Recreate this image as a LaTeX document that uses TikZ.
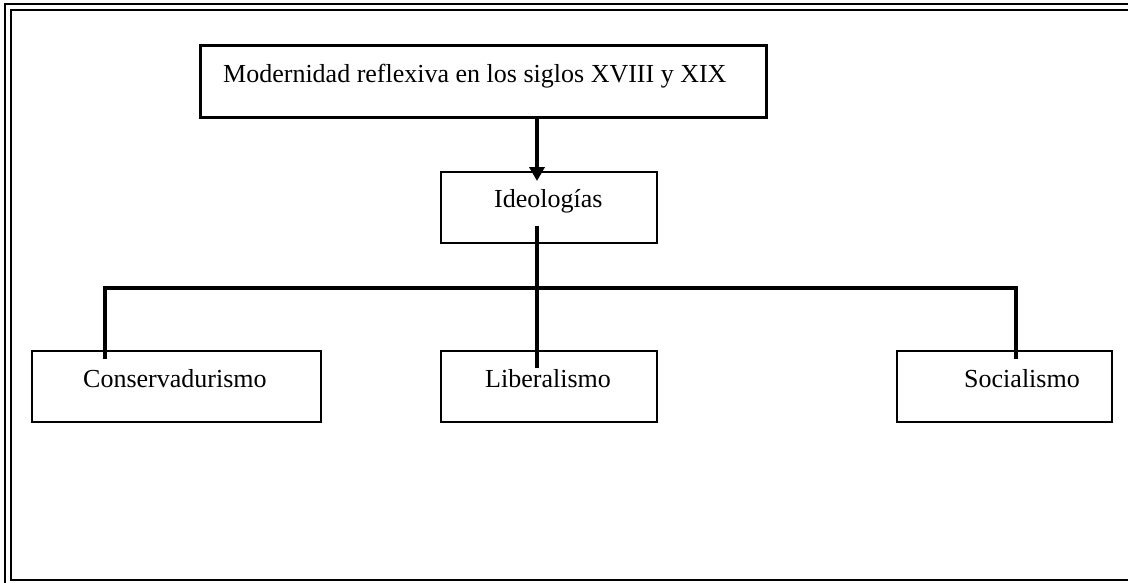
\documentclass[tikz,border=0pt]{standalone}
\usepackage{fontspec}
\setmainfont{Liberation Serif}
\usetikzlibrary{arrows.meta}
\tikzset{
  thinbox/.style={draw, line width=1.7pt, rectangle, inner sep=0pt},
  label26/.style={anchor=base west, inner sep=0pt, font=\fontsize{26}{30}\selectfont},
  link/.style={line width=4pt},
  linkarrow/.style={line width=4pt, -{Triangle[length=14pt,width=15pt]}},
}
\begin{document}
\begin{tikzpicture}[x=1pt,y=-1pt]
\useasboundingbox (0,0) rectangle (1128,582);
\fill[white] (0,0) rectangle (1128,582);

% double page frame
\draw[line width=2pt] (5,4.3) rectangle (1140,596);
\draw[line width=2.4pt] (11.2,9.7) rectangle (1134,580);

% title box
\node[draw, line width=3pt, rectangle, inner sep=0pt,
      minimum width=566pt, minimum height=72pt] (top) at (483,81.5) {};
\node[label26] (toptext) at (223,82) {Modernidad reflexiva en los siglos XVIII y XIX};

% middle and lower boxes
\node[thinbox, minimum width=216pt, minimum height=71.5pt] (ideo) at (549,207.5) {};
\node[label26] (ideotext) at (494,207) {Ideologías};

\node[thinbox, minimum width=289pt, minimum height=71.5pt] (cons) at (176.5,386.5) {};
\node[label26] (constext) at (83,387) {Conservadurismo};

\node[thinbox, minimum width=216pt, minimum height=71.5pt] (lib) at (549,386.5) {};
\node[label26] (libtext) at (485,387) {Liberalismo};

\node[thinbox, minimum width=215pt, minimum height=71.5pt] (soc) at (1004.5,386.5) {};
\node[label26, anchor=base] (soctext) at (1022,387) {Socialismo};

% connector points
\coordinate (a0) at (537,116);
\coordinate (a1) at (537,181);
\coordinate (b0) at (537,226);
\coordinate (b1) at (537,368);
\coordinate (hl) at (105,288);
\coordinate (hr) at (1016,288);
\coordinate (cl) at (105,359);
\coordinate (cr) at (1016,359);

% connectors
\draw[linkarrow] (a0) -- (a1);
\draw[link] (b0) -- (b1);
\draw[link, line join=miter] (cl) -- (hl) -- (hr) -- (cr);
\end{tikzpicture}
\end{document}
